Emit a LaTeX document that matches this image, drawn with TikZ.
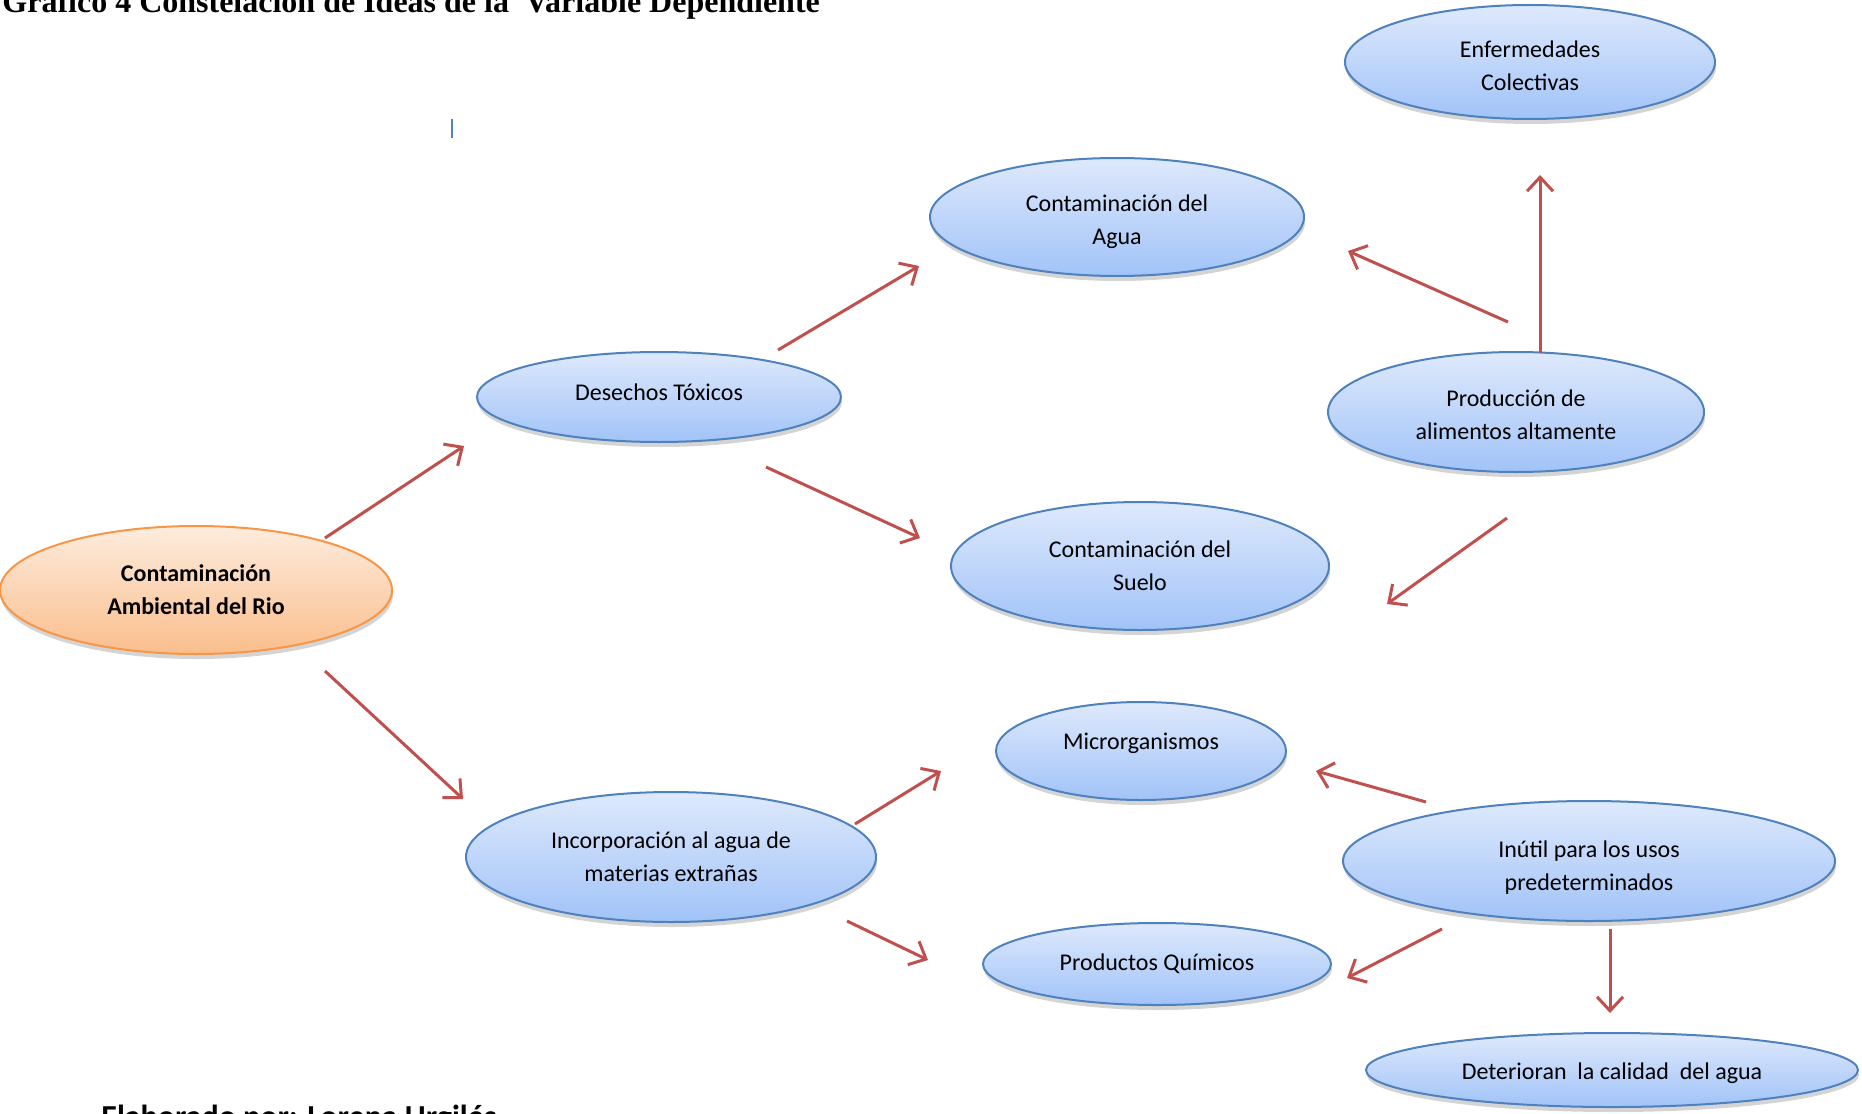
\documentclass[tikz,border=0pt]{standalone}
\usepackage{fontspec}
\setmainfont{Carlito}
\newfontfamily\titlefont{Liberation Serif}
\usetikzlibrary{shapes.geometric,shadows,arrows.meta}
\definecolor{bluetop}{RGB}{222,233,252}
\definecolor{bluebot}{RGB}{161,195,248}
\definecolor{blueline}{RGB}{79,129,189}
\definecolor{orgtop}{RGB}{253,236,222}
\definecolor{orgbot}{RGB}{250,190,140}
\definecolor{orgline}{RGB}{247,150,70}
\definecolor{arrred}{RGB}{192,80,77}
\tikzset{
  bub/.style 2 args={ellipse, draw=blueline, line width=1pt, top color=bluetop, bottom color=bluebot,
    minimum width=#1*1pt, minimum height=#2*1pt, inner sep=0pt, align=center,
    font=\fontsize{12}{16.5}\selectfont,
    drop shadow={shadow xshift=0.5pt, shadow yshift=-2.5pt, opacity=0.17, fill=black}},
  obub/.style 2 args={bub={#1}{#2}, draw=orgline, top color=orgtop, bottom color=orgbot,
    font=\fontsize{12}{16.5}\selectfont\bfseries},
  link/.style={draw=arrred, line width=1.5pt, -{Straight Barb[length=7pt,width=13pt,line width=1.5pt]}}
}
\begin{document}
\begin{tikzpicture}[x=0.5pt,y=-0.5pt]
\useasboundingbox (0,0) rectangle (1862,1113);
% title and footer
\node[anchor=base west, inner sep=0pt, font=\titlefont\bfseries\fontsize{16}{19}\selectfont] (title) at (2,13)
  {Gráfico 4 Constelación de Ideas de la\ \ Variable Dependiente};
\node[anchor=base west, inner sep=0pt, font=\bfseries\fontsize{16}{19}\selectfont] (footer) at (101,1127)
  {Elaborado por: Lorena Urgilés};
\draw[blueline, line width=1pt] (452,119) coordinate (bar1) -- (452,138) coordinate (bar2);
% nodes
\node[obub={196}{64}] (rio) at (196,590) {Contaminación\\Ambiental del Rio};
\node[bub={182}{45}] (desechos) at (659,397) {\raisebox{5pt}{Desechos Tóxicos}};
\node[bub={205}{65}] (incorp) at (671,857) {Incorporación al agua de\\materias extrañas};
\node[bub={187}{59}] (agua) at (1117,217) {\rule{0pt}{12.6pt}Contaminación del\\Agua};
\node[bub={189}{64}] (suelo) at (1140,566) {Contaminación del\\Suelo};
\node[bub={145}{49}] (micro) at (1141,751) {\raisebox{9.5pt}{Microrganismos}};
\node[bub={174}{41}] (quim) at (1157,964) {Productos Químicos};
\node[bub={185}{57}] (enf) at (1530,62) {\rule{0pt}{11.6pt}Enfermedades\\Colectivas};
\node[bub={188}{60}] (prod) at (1516,412) {\rule{0pt}{11pt}Producción de\\alimentos altamente};
\node[bub={246}{60}] (inutil) at (1589,861) {\rule{0pt}{15pt}Inútil para los usos\\predeterminados};
\node[bub={246}{37}] (det) at (1612,1070) {\rule{0pt}{11.5pt}Deterioran\ \ la calidad\ \ del agua};
% arrow end points
\coordinate (a1) at (325,538);  \coordinate (a2) at (464,446);
\coordinate (b1) at (325,671);  \coordinate (b2) at (463,799);
\coordinate (c1) at (778,350);  \coordinate (c2) at (919,266);
\coordinate (d1) at (766,467);  \coordinate (d2) at (920,538);
\coordinate (e1) at (1508,322); \coordinate (e2) at (1348,251);
\coordinate (f1) at (1540,353); \coordinate (f2) at (1540,175);
\coordinate (g1) at (1507,518); \coordinate (g2) at (1387,604);
\coordinate (h1) at (855,824);  \coordinate (h2) at (941,771);
\coordinate (i1) at (847,921);  \coordinate (i2) at (928,960);
\coordinate (j1) at (1426,802); \coordinate (j2) at (1316,771);
\coordinate (k1) at (1442,929); \coordinate (k2) at (1347,978);
\coordinate (l1) at (1610,929); \coordinate (l2) at (1610,1013);
% connectors
\draw[link] (a1) -- (a2);
\draw[link] (b1) -- (b2);
\draw[link] (c1) -- (c2);
\draw[link] (d1) -- (d2);
\draw[link] (e1) -- (e2);
\draw[link] (f1) -- (f2);
\draw[link] (g1) -- (g2);
\draw[link] (h1) -- (h2);
\draw[link] (i1) -- (i2);
\draw[link] (j1) -- (j2);
\draw[link] (k1) -- (k2);
\draw[link] (l1) -- (l2);
\end{tikzpicture}
\end{document}
